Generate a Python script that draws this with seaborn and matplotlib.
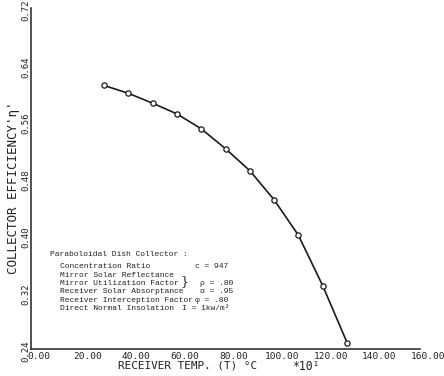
import matplotlib
matplotlib.use("Agg")
import matplotlib.pyplot as plt
import matplotlib.transforms as mtransforms
import pandas as pd
import seaborn as sns

# Receiver temperature (units of 10 degC) and collector efficiency
temperature = [30, 40, 50, 60, 70, 80, 90, 100, 110, 120, 130]
efficiency = [0.611, 0.600, 0.586, 0.571, 0.550, 0.522, 0.491, 0.450, 0.400, 0.329, 0.249]

x_ticks = [0, 20, 40, 60, 80, 100, 120, 140, 160]
x_tick_labels = ["0.00", "20.00", "40.00", "60.00", "80.00", "100.00", "120.00", "140.00", "160.00"]
y_ticks = [0.24, 0.32, 0.40, 0.48, 0.56, 0.64, 0.72]
y_tick_labels = ["0.24", "0.32", "0.40", "0.48", "0.56", "0.64", "0.72"]

title_line = "Paraboloidal Dish Collector :"
param_names = [
    "Concentration Ratio",
    "Mirror Solar Reflectance",
    "Mirror Utilization Factor",
    "Receiver Solar Absorptance",
    "Receiver Interception Factor",
    "Direct Normal Insolation",
]
param_values = ["c = 947", "", "ρ = .80", "α = .95", "φ = .80", "I = 1kw/m²"]

df = pd.DataFrame({"temp": temperature, "eff": efficiency})

sns.set_theme(style="white")
plt.rcParams["font.family"] = ["DejaVu Sans Mono", "DejaVu Sans"]

fig = plt.figure(figsize=(4.44, 3.76), dpi=100)
W, H = 444, 376
left, right, bottom, top = 31, 420, 349, 8
ax = fig.add_axes([left / W, 1 - bottom / H, (right - left) / W, (bottom - top) / H])


def axpos(px, py):
    """Pixel position on the sheet -> axes fraction."""
    return (px - left) / (right - left), (bottom - py) / (bottom - top)


sns.lineplot(data=df, x="temp", y="eff", ax=ax, color="#1a1a1a", linewidth=1.2,
             marker="o", markersize=3.8, markerfacecolor="white",
             markeredgecolor="#1a1a1a", markeredgewidth=0.9)

ax.set_xlim(0, 160)
ax.set_ylim(0.24, 0.72)
ax.set_xticks(x_ticks)
ax.set_xticklabels(x_tick_labels, fontsize=6.8)
ax.set_yticks(y_ticks)
ax.set_yticklabels(y_tick_labels, fontsize=6.5, rotation=90, va="center")

ax.tick_params(axis="both", direction="in", length=3, width=0.8, color="#222222",
               labelcolor="#222222")
ax.tick_params(axis="x", pad=2)
ax.tick_params(axis="y", pad=0.5)

# shift the x tick labels a little to the right of their ticks
offset = mtransforms.ScaledTranslation(8 / 100, 0, fig.dpi_scale_trans)
for lbl in ax.get_xticklabels():
    lbl.set_transform(lbl.get_transform() + offset)
# and the y tick labels slightly downward
yoff = mtransforms.ScaledTranslation(0, -2 / 100, fig.dpi_scale_trans)
for lbl in ax.get_yticklabels():
    lbl.set_transform(lbl.get_transform() + yoff)

for side in ("top", "right"):
    ax.spines[side].set_visible(False)
for side in ("left", "bottom"):
    ax.spines[side].set_color("#222222")
    ax.spines[side].set_linewidth(1.1)

ax.set_xlabel("RECEIVER TEMP. (T) °C", fontsize=7.9, color="#222222", va="center")
ax.xaxis.set_label_coords(*axpos(188, 366))
ax.set_ylabel("COLLECTOR EFFICIENCY'η'", fontsize=9, color="#222222", va="center")
ax.yaxis.set_label_coords(*axpos(14, 188))
ax.text(*axpos(306, 366), "*10¹", transform=ax.transAxes, fontsize=8.3,
        color="#222222", ha="center", va="center")

# parameter block
note_font = dict(family=["Liberation Mono", "DejaVu Sans Mono"], fontsize=5.8,
                 color="#222222", va="center", transform=ax.transAxes)
ax.text(*axpos(50, 254), title_line, ha="left", **note_font)
value_x = [195, 0, 200, 200, 195, 182]
for i, (name, val) in enumerate(zip(param_names, param_values)):
    py = 267 + i * 8.3
    ax.text(*axpos(60, py), name, ha="left", **note_font)
    if val:
        ax.text(*axpos(value_x[i], py), val, ha="left", **note_font)
ax.text(*axpos(184, 282), "}", ha="center", va="center", transform=ax.transAxes,
        family="DejaVu Serif", fontsize=9, color="#222222")

fig.savefig("out.png", dpi=100, facecolor="white")
